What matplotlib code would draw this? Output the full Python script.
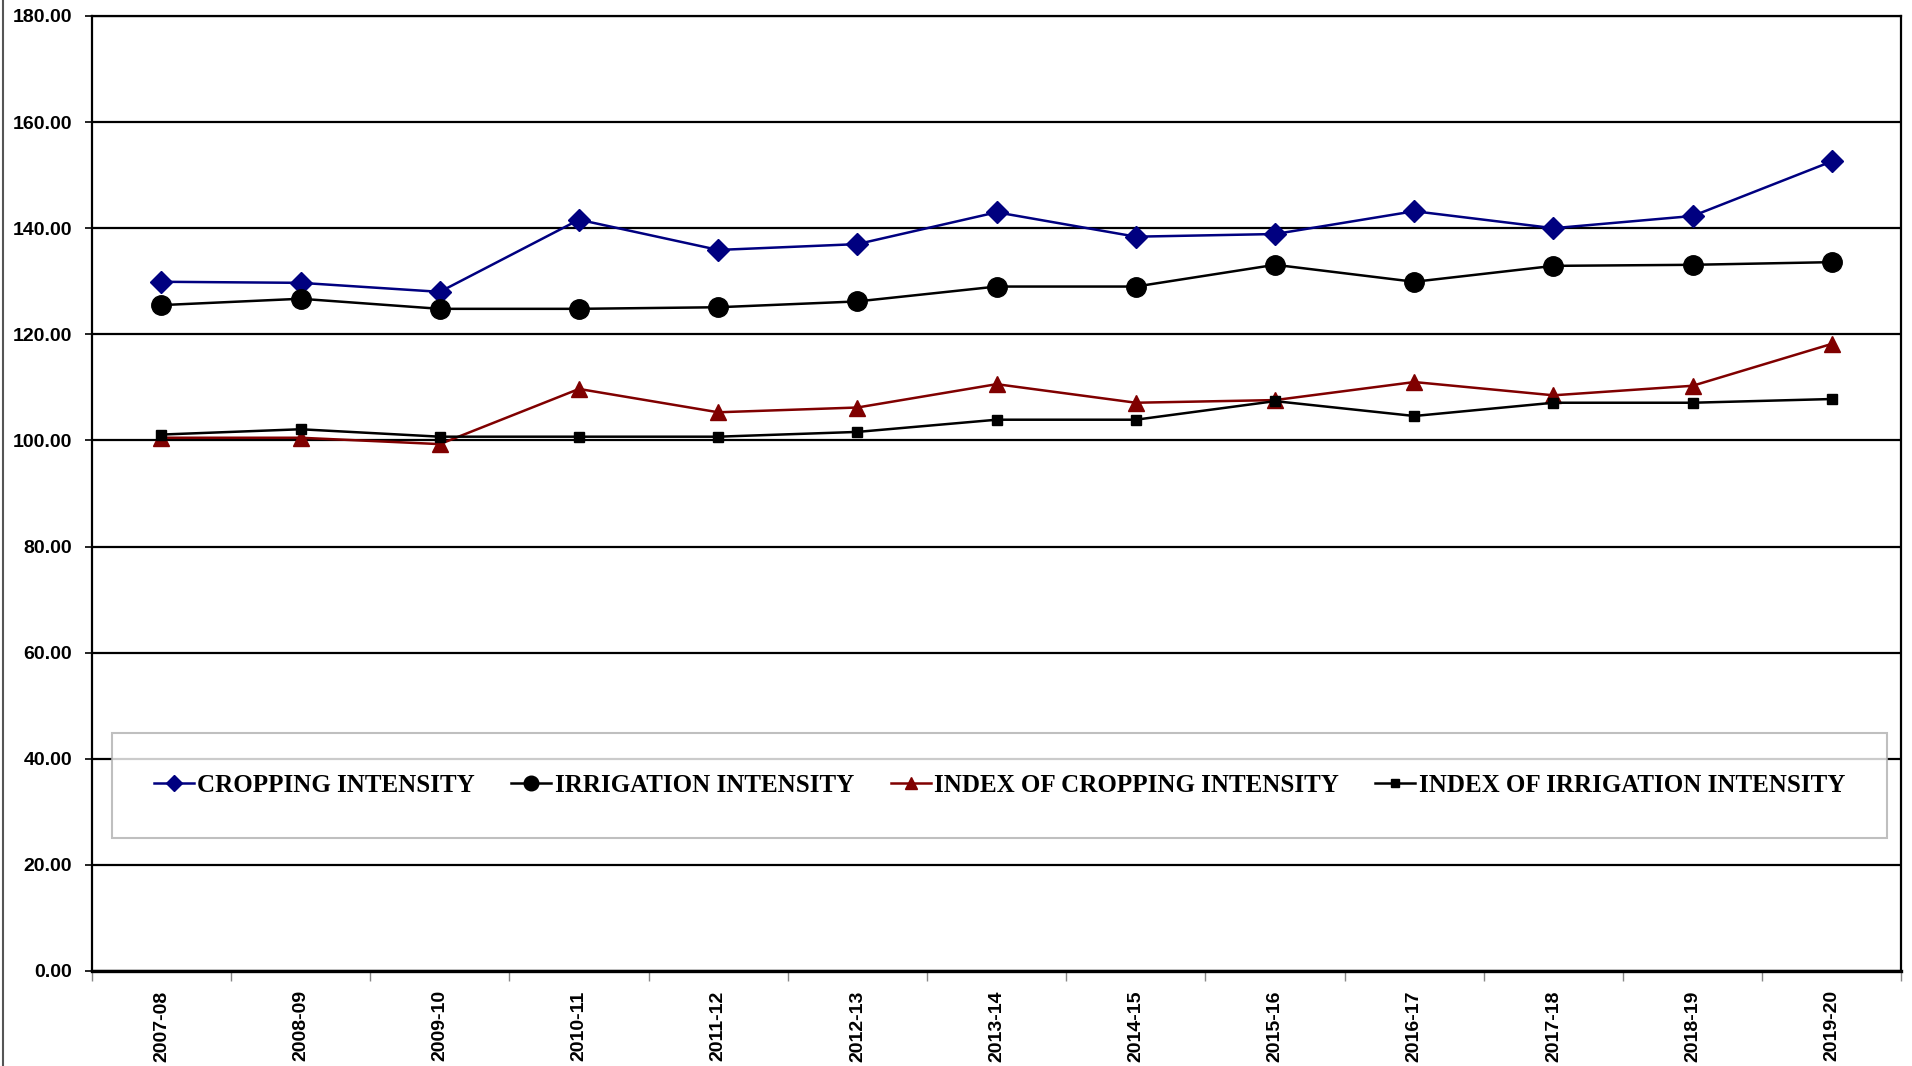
import numpy as np
import matplotlib
matplotlib.use("Agg")
import matplotlib.pyplot as plt
from matplotlib.lines import Line2D

# ------------------------------------------------------------
# Data
# ------------------------------------------------------------
years = ["2007-08", "2008-09", "2009-10", "2010-11", "2011-12", "2012-13", "2013-14",
         "2014-15", "2015-16", "2016-17", "2017-18", "2018-19", "2019-20"]

cropping_intensity = [129.9, 129.7, 128.0, 141.6, 135.9, 137.0, 143.0,
                      138.4, 138.9, 143.2, 140.0, 142.3, 152.6]
irrigation_intensity = [125.5, 126.7, 124.8, 124.8, 125.1, 126.2, 129.0,
                        129.0, 133.1, 129.9, 132.9, 133.1, 133.6]
index_cropping = [100.5, 100.5, 99.3, 109.7, 105.3, 106.2, 110.6,
                  107.1, 107.6, 111.0, 108.5, 110.3, 118.2]
index_irrigation = [101.1, 102.1, 100.7, 100.7, 100.7, 101.6, 103.9,
                    103.9, 107.4, 104.6, 107.1, 107.1, 107.8]

y_ticks = np.arange(0, 181, 20)

# ------------------------------------------------------------
# Figure
# ------------------------------------------------------------
fig = plt.figure(figsize=(19.12, 10.66), dpi=100)
ax = fig.add_axes([0.048, 0.0892, 0.9465, 0.8958])

x = np.arange(len(years))

ax.plot(x, cropping_intensity, color="#000080", lw=1.8, marker="D", ms=11,
        label="CROPPING INTENSITY", zorder=5)
ax.plot(x, irrigation_intensity, color="black", lw=1.8, marker="o", ms=14,
        label="IRRIGATION INTENSITY", zorder=5)
ax.plot(x, index_cropping, color="#800000", lw=1.8, marker="^", ms=12,
        label="INDEX OF CROPPING INTENSITY", zorder=5)
ax.plot(x, index_irrigation, color="black", lw=1.8, marker="s", ms=7,
        label="INDEX OF IRRIGATION INTENSITY", zorder=5)

ax.set_xlim(-0.5, len(years) - 0.5)
ax.set_ylim(0, 180)

# horizontal gridlines
ax.set_yticks(y_ticks)
ax.set_yticklabels([f"{v:.2f}" for v in y_ticks])
ax.yaxis.grid(True, color="black", lw=1.6)
ax.set_axisbelow(True)

# category labels at centres, tick marks at boundaries
ax.set_xticks(x)
ax.set_xticklabels(years, rotation=90)
ax.set_xticks(np.arange(-0.5, len(years), 1.0), minor=True)
ax.tick_params(axis="x", which="major", length=0, pad=14)
ax.tick_params(axis="x", which="minor", length=7, width=1, color="#888888")
ax.tick_params(axis="y", length=5, width=1.2, pad=9)

for lbl in ax.get_xticklabels() + ax.get_yticklabels():
    lbl.set_fontfamily("Liberation Sans")
    lbl.set_fontweight("bold")
    lbl.set_fontsize(14)

for side in ["top", "right", "left"]:
    ax.spines[side].set_linewidth(1.6)
    ax.spines[side].set_color("black")
ax.spines["bottom"].set_linewidth(2.4)

# legend box inside the plot
leg = ax.legend(loc="center", ncol=4, mode="expand",
                bbox_to_anchor=(0.0114, 0.139, 0.9805, 0.110),
                prop={"family": "Liberation Serif", "weight": "bold", "size": 18},
                frameon=True, fancybox=False, edgecolor="#b0b0b0",
                handlelength=1.6, handletextpad=0.15, borderaxespad=0,
                borderpad=1.65, markerscale=0.75)
leg.get_frame().set_linewidth(1.5)

# outer frame edge on the left
fig.add_artist(Line2D([0.0015, 0.0015], [0, 1], transform=fig.transFigure,
                      color="#555555", lw=1.5))

fig.savefig("out.png", dpi=100)
